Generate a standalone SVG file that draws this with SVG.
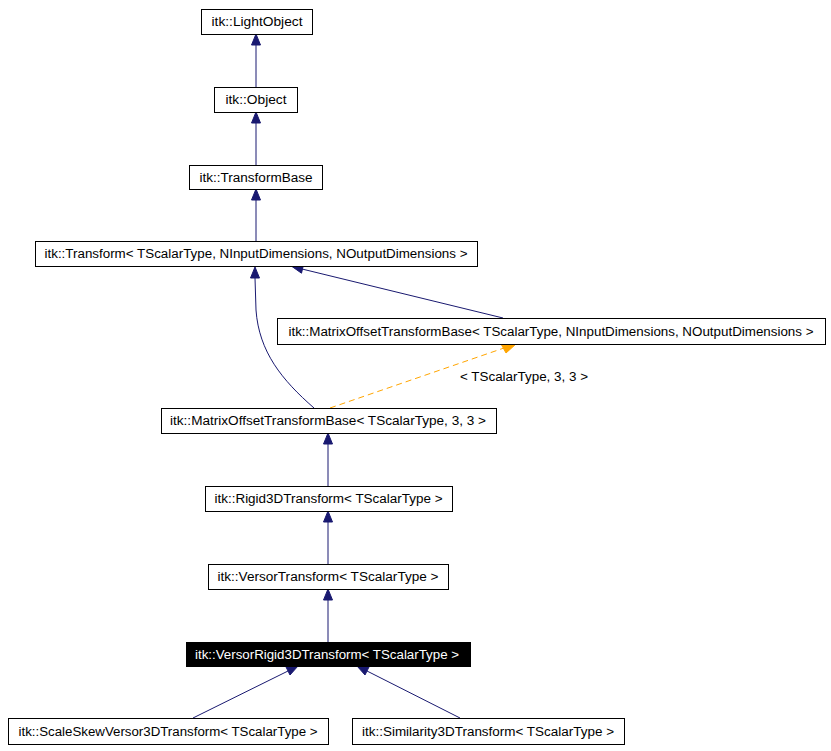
<svg xmlns="http://www.w3.org/2000/svg" width="831" height="751" viewBox="0 0 831 751">
<style>
.n rect{fill:#fff;stroke:#000;stroke-width:1}
.n text{font-family:"Liberation Sans",Arial,sans-serif;font-size:12px;text-anchor:middle;fill:#000}
.n.sel rect{fill:#000}
.n.sel text{fill:#fff}
.e{fill:none;stroke:#191970;stroke-width:1}
.h{fill:#191970;stroke:#191970}
.d{fill:none;stroke:#ffa500;stroke-width:1;stroke-dasharray:6,4}
.dh{fill:#ffa500;stroke:#ffa500}
.lbl{font-family:"Liberation Sans",Arial,sans-serif;font-size:12px;fill:#000}
</style>
<rect width="831" height="751" fill="#fff"/>
<g id="edges">
<path class="e" d="M256,87 L256,45"/><polygon class="h" points="256,34 251.5,45 260.5,45"/>
<path class="e" d="M256,165 L256,123"/><polygon class="h" points="256,112 251.5,123 260.5,123"/>
<path class="e" d="M256,241 L256,200"/><polygon class="h" points="256,189 251.5,200 260.5,200"/>
<path class="e" d="M314,408 C282,380 259,352 256,310 L255,278"/><polygon class="h" points="255,267 250.5,278 259.5,278"/>
<path class="e" d="M503,318 L302,269"/><polygon class="h" points="292,266.5 303.6,264.4 301.5,273.2"/>
<path class="d" d="M330,408 L504,348"/><polygon class="dh" points="501,344 516,344 506,353"/>
<path class="e" d="M328,486 L328,444"/><polygon class="h" points="328,433 323.5,444 332.5,444"/>
<path class="e" d="M328,564 L328,522"/><polygon class="h" points="328,511 323.5,522 332.5,522"/>
<path class="e" d="M328,642 L328,600"/><polygon class="h" points="328,589 323.5,600 332.5,600"/>
<path class="e" d="M193,718 L288,671"/><polygon class="h" points="298,666 286,667 290,675"/>
<path class="e" d="M460,718 L367,671"/><polygon class="h" points="357,666 365,675 369,667"/>
<text class="lbl" x="460" y="381" textLength="128" lengthAdjust="spacingAndGlyphs">&lt; TScalarType, 3, 3 &gt;</text>
</g>
<g id="n1" class="n"><rect x="201.5" y="9.5" width="111" height="25"/><text x="257" y="26" textLength="91" lengthAdjust="spacingAndGlyphs">itk::LightObject</text></g>
<g id="n2" class="n"><rect x="214.5" y="87.5" width="83" height="25"/><text x="256" y="104" textLength="61" lengthAdjust="spacingAndGlyphs">itk::Object</text></g>
<g id="n3" class="n"><rect x="189.5" y="165.5" width="133" height="24"/><text x="256" y="182" textLength="113" lengthAdjust="spacingAndGlyphs">itk::TransformBase</text></g>
<g id="n4" class="n"><rect x="35.5" y="241.5" width="442" height="25"/><text x="256" y="258" textLength="423" lengthAdjust="spacingAndGlyphs">itk::Transform&lt; TScalarType, NInputDimensions, NOutputDimensions &gt;</text></g>
<g id="n5" class="n"><rect x="277.5" y="318.5" width="548" height="26"/><text x="551" y="336" textLength="525" lengthAdjust="spacingAndGlyphs">itk::MatrixOffsetTransformBase&lt; TScalarType, NInputDimensions, NOutputDimensions &gt;</text></g>
<g id="n6" class="n"><rect x="161.5" y="408.5" width="335" height="25"/><text x="328" y="425" textLength="316" lengthAdjust="spacingAndGlyphs">itk::MatrixOffsetTransformBase&lt; TScalarType, 3, 3 &gt;</text></g>
<g id="n7" class="n"><rect x="205.5" y="486.5" width="247" height="25"/><text x="328.5" y="503" textLength="228" lengthAdjust="spacingAndGlyphs">itk::Rigid3DTransform&lt; TScalarType &gt;</text></g>
<g id="n8" class="n"><rect x="208.5" y="564.5" width="240" height="25"/><text x="328" y="581" textLength="221" lengthAdjust="spacingAndGlyphs">itk::VersorTransform&lt; TScalarType &gt;</text></g>
<g id="n9" class="n sel"><rect x="186.5" y="642.5" width="284" height="24"/><text x="327" y="659" textLength="264" lengthAdjust="spacingAndGlyphs">itk::VersorRigid3DTransform&lt; TScalarType &gt;</text></g>
<g id="n10" class="n"><rect x="8.5" y="718.5" width="320" height="26"/><text x="168" y="736" textLength="299" lengthAdjust="spacingAndGlyphs">itk::ScaleSkewVersor3DTransform&lt; TScalarType &gt;</text></g>
<g id="n11" class="n"><rect x="352.5" y="718.5" width="272" height="26"/><text x="488" y="736" textLength="252" lengthAdjust="spacingAndGlyphs">itk::Similarity3DTransform&lt; TScalarType &gt;</text></g>
</svg>
